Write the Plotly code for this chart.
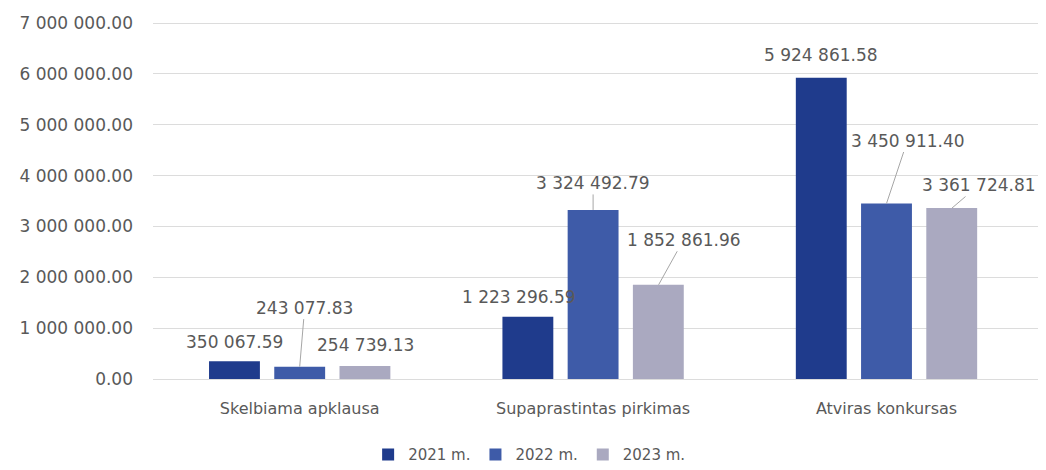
import plotly.graph_objects as go

# Duomenys
categories = ["Skelbiama apklausa", "Supaprastintas pirkimas", "Atviras konkursas"]
years = ["2021 m.", "2022 m.", "2023 m."]
values_2021 = [350067.59, 1223296.59, 5924861.58]
values_2022 = [243077.83, 3324492.79, 3450911.40]
values_2023 = [254739.13, 1852861.96, 3361724.81]
y_ticks = [0, 1000000, 2000000, 3000000, 4000000, 5000000, 6000000, 7000000]

series = [values_2021, values_2022, values_2023]
colors = ["#1f3b8c", "#3e5ba8", "#aaa9c0"]

# Etikečių poslinkiai (px): [serija][kategorija] -> (ax, ay, rodyti liniją)
label_offsets = [
    [(0, -19, False), (-9, -20, False), (0, -23, False)],
    [(5, -59, True), (0, -27, True), (21, -63, True)],
    [(0, -21, False), (25, -45, True), (27, -23, True)],
]
bar_slot = 65.5  # px tarp grupės stulpelių centrų

FONT = "DejaVu Sans, Liberation Sans, sans-serif"


def fmt(v):
    return f"{v:,.2f}".replace(",", " ")


fig = go.Figure()
for name, vals, col in zip(years, series, colors):
    fig.add_trace(go.Bar(
        x=categories, y=vals, name=name,
        marker=dict(color=col, line=dict(width=0)),
    ))

annotations = []
for si, vals in enumerate(series):
    for ci, v in enumerate(vals):
        ax, ay, line = label_offsets[si][ci]
        annotations.append(dict(
            x=categories[ci], y=v, xref="x", yref="y",
            xshift=(si - 1) * bar_slot,
            text=fmt(v), showarrow=True,
            ax=ax, ay=ay,
            arrowhead=0, arrowwidth=1,
            arrowcolor="#a6a6a6" if line else "rgba(0,0,0,0)",
            standoff=0, startstandoff=0,
            font=dict(family=FONT, size=17, color="#595959"),
        ))

# puslapio body turi 8 px paraštę, todėl figūra 8 px mažesnė
fig.update_layout(
    width=1038, height=462,
    margin=dict(l=145, r=8, t=14, b=91, autoexpand=False),
    paper_bgcolor="white", plot_bgcolor="white",
    font=dict(family=FONT, color="#595959", size=15),
    separators=". ",
    barmode="group", bargap=0.333, bargroupgap=0.22,
    annotations=annotations,
    legend=dict(orientation="h", x=0.425, xanchor="center", y=-0.212, yanchor="middle",
                font=dict(family=FONT, size=15, color="#595959"), itemwidth=30,
                tracegroupgap=0),
    xaxis=dict(showgrid=False, showline=False, ticks="", ticklabelstandoff=18,
               automargin=False,
               tickfont=dict(family=FONT, size=16, color="#595959")),
    yaxis=dict(range=[0, 7020000], tickvals=y_ticks, tickformat=",.2f",
               showgrid=True, gridcolor="#dcdcdc", gridwidth=1,
               zeroline=True, zerolinecolor="#dcdcdc", zerolinewidth=1,
               showline=False, ticks="", ticklabelstandoff=19, automargin=False,
               tickfont=dict(family=FONT, size=17, color="#595959")),
)

fig.write_html("out.html")
